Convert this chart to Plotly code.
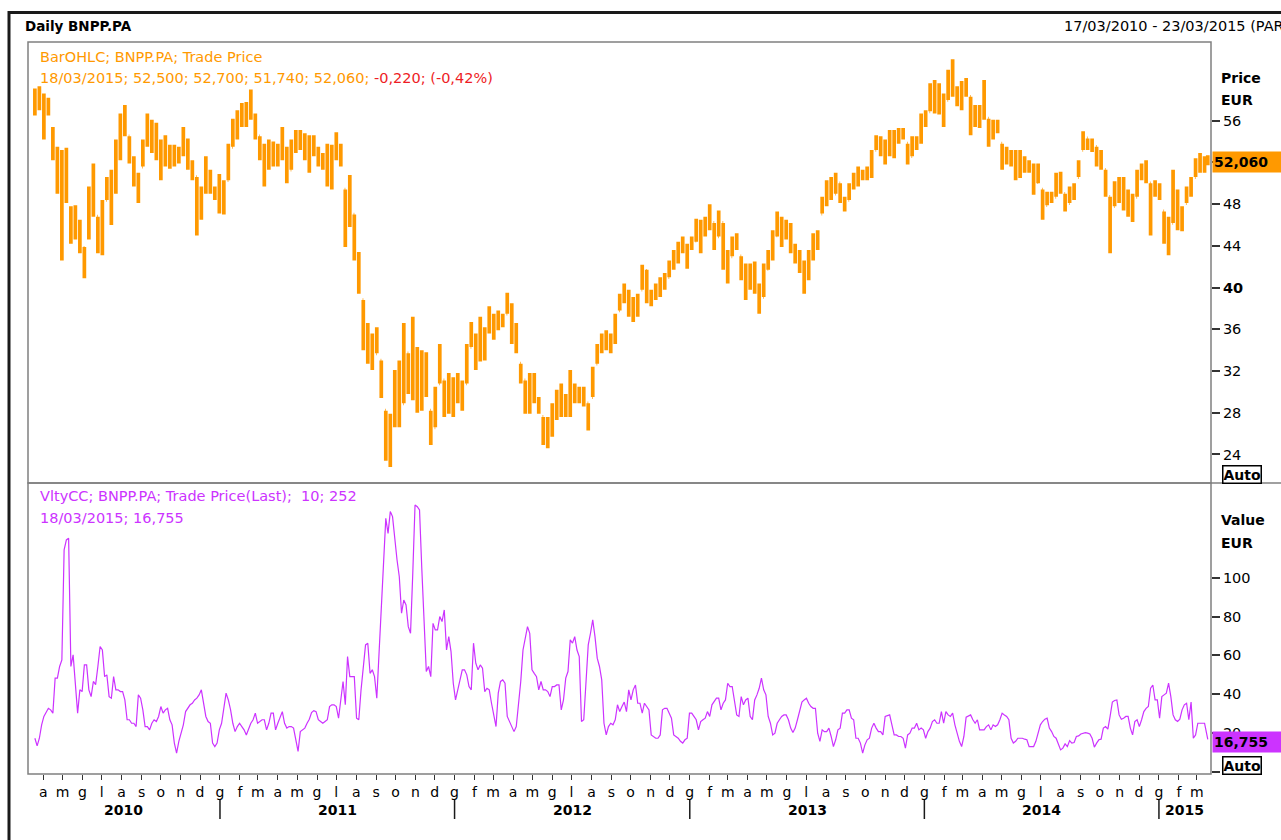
import pandas as pd
import plotly.graph_objects as go

# ---------------- data ----------------
# weekly OHLC bars of BNPP.PA, EUR (first bar 19/03/2010, last bar 18/03/2015)
price_open = [
    57.5, 58.6, 57.4, 56.8, 55.2, 52.6, 50.1, 50.8, 47.6, 45.9,
    45.2, 43.8, 44.8, 49.1, 46.8, 44.6, 48.4, 49.5, 50.8, 53.6,
    55.9, 54.5, 52.4, 50.3, 51.6, 53.9, 55.6, 54.2, 52.8, 53.1,
    52.4, 52.9, 52.2, 53.2, 53.6, 51.8, 50.6, 47.2, 49.2, 50.4,
    49.4, 48.8, 48.5, 50.3, 53.5, 55.6, 56.4, 56.1, 57.3, 56.5,
    54.5, 52.7, 52.9, 52.1, 53.4, 52.8, 53.0, 51.3, 53.9, 54.2,
    53.8, 52.6, 53.7, 52.9, 52.2, 51.9, 50.8, 53.1, 53.4, 49.4,
    46.0, 47.0, 43.2, 38.8, 35.1, 34.8, 33.7, 33.0, 28.2, 24.6,
    26.8, 30.5, 28.9, 33.7, 31.0, 32.6, 30.2, 31.4, 28.2, 26.6,
    30.8, 31.1, 28.9, 30.6, 29.4, 30.2, 30.8, 34.3, 35.2, 34.6,
    35.4, 35.9, 37.0, 36.8, 37.1, 37.5, 38.1, 35.6, 32.7, 31.1,
    29.6, 30.4, 29.3, 27.6, 25.9, 26.8, 27.9, 29.4, 28.5, 29.1,
    30.0, 29.9, 29.4, 28.9, 29.5, 32.7, 34.1, 34.6, 35.0, 34.8,
    37.8, 38.9, 39.6, 38.0, 38.3, 39.8, 41.6, 39.2, 39.5, 39.8,
    40.6, 41.0, 42.2, 43.1, 44.0, 43.6, 43.9, 44.5, 46.0, 45.1,
    46.4, 46.2, 44.9, 46.2, 43.1, 43.0, 44.3, 43.0, 41.2, 40.1,
    41.5, 40.0, 39.1, 41.8, 43.0, 45.0, 45.8, 45.3, 44.9, 43.8,
    42.9, 41.9, 41.8, 43.2, 44.6, 47.1, 48.2, 49.6, 49.0, 50.0,
    48.5, 48.4, 49.6, 50.5, 50.9, 50.8, 51.2, 53.2, 54.1, 53.2,
    53.6, 54.4, 54.6, 54.9, 53.8, 52.6, 53.9, 54.1, 56.2, 56.9,
    58.7, 57.8, 58.1, 58.0, 59.6, 59.1, 58.2, 59.2, 58.3, 55.9,
    56.7, 56.3, 56.2, 54.8, 55.7, 53.8, 52.4, 52.8, 52.0, 52.6,
    51.4, 51.9, 51.3, 50.1, 49.4, 47.9, 48.6, 48.7, 50.3, 49.0,
    48.1, 49.2, 50.6, 53.2, 54.3, 53.6, 53.5, 52.1, 51.3, 48.7,
    47.8, 48.9, 49.6, 48.2, 47.6, 48.7, 50.8, 51.2, 50.0, 49.0,
    49.4, 47.3, 45.1, 46.2, 48.3, 46.2, 48.1, 49.3, 50.6, 52.0,
    51.6, 52.5,
]
price_high = [
    59.1, 59.3, 58.6, 58.2, 55.4, 53.5, 53.2, 53.4, 47.8, 47.9,
    46.5, 43.9, 49.7, 51.9, 46.8, 48.4, 50.6, 51.3, 54.2, 56.7,
    57.5, 54.5, 52.6, 51.0, 54.2, 56.7, 56.1, 55.8, 54.2, 54.6,
    53.7, 53.7, 53.5, 55.4, 54.3, 52.2, 50.6, 49.7, 52.6, 51.3,
    49.7, 50.9, 50.3, 53.8, 56.2, 57.0, 57.7, 57.8, 59.0, 56.7,
    54.5, 53.8, 54.2, 54.0, 53.8, 55.4, 53.5, 54.2, 55.1, 55.1,
    54.8, 54.6, 54.6, 53.5, 52.9, 53.8, 53.7, 54.9, 53.8, 49.4,
    50.8, 47.0, 43.4, 38.8, 36.6, 35.6, 36.2, 33.0, 28.2, 27.9,
    32.1, 33.0, 36.6, 33.7, 37.2, 34.3, 34.0, 33.8, 28.2, 30.5,
    34.6, 31.1, 31.8, 31.4, 31.8, 31.1, 34.6, 36.7, 35.6, 37.2,
    36.2, 38.2, 37.5, 37.8, 37.5, 39.5, 38.5, 36.6, 32.7, 31.1,
    31.8, 31.8, 29.5, 27.6, 27.6, 28.9, 30.2, 30.8, 29.8, 32.1,
    30.8, 30.5, 30.5, 28.9, 32.4, 34.6, 35.6, 35.9, 35.6, 37.5,
    39.4, 40.4, 39.8, 39.1, 39.4, 42.2, 41.7, 39.8, 40.4, 41.0,
    41.4, 42.6, 43.6, 44.4, 44.9, 44.2, 44.9, 46.6, 46.5, 46.8,
    48.0, 46.2, 47.4, 46.2, 43.6, 44.9, 45.2, 43.0, 42.3, 42.3,
    42.5, 40.4, 42.3, 43.6, 45.5, 47.3, 46.8, 46.5, 46.2, 44.2,
    43.6, 42.6, 43.6, 45.2, 45.5, 48.7, 50.3, 50.6, 51.0, 50.0,
    48.7, 50.0, 51.0, 51.6, 51.3, 51.6, 53.2, 54.6, 54.5, 54.2,
    55.1, 55.1, 55.3, 55.3, 53.8, 54.5, 54.5, 56.7, 57.0, 59.6,
    59.9, 59.6, 58.6, 60.9, 61.9, 59.3, 59.8, 60.1, 58.3, 57.5,
    57.5, 59.9, 56.2, 56.1, 56.1, 53.8, 53.5, 53.2, 53.2, 53.2,
    52.6, 52.2, 51.9, 51.9, 49.4, 49.2, 49.2, 51.0, 51.1, 49.0,
    49.7, 50.0, 52.2, 55.0, 54.3, 54.3, 53.5, 53.2, 51.3, 48.7,
    50.2, 50.6, 50.6, 49.4, 49.0, 51.3, 51.9, 52.2, 50.0, 50.3,
    50.0, 47.3, 46.8, 51.3, 49.4, 47.8, 49.7, 50.6, 52.4, 52.9,
    52.6, 52.7,
]
price_low = [
    56.5, 57.0, 54.2, 56.5, 52.2, 49.0, 42.6, 48.1, 44.2, 44.6,
    43.3, 40.9, 44.6, 46.8, 43.3, 43.1, 48.4, 46.0, 49.0, 52.2,
    54.5, 51.9, 49.7, 48.1, 51.6, 53.5, 52.9, 52.2, 50.3, 51.6,
    51.4, 51.6, 51.9, 52.6, 51.3, 50.3, 45.0, 46.5, 49.0, 49.0,
    48.4, 47.1, 47.0, 50.3, 53.5, 54.2, 55.4, 55.4, 56.1, 54.2,
    52.2, 49.7, 51.3, 51.6, 51.6, 52.2, 50.0, 51.3, 52.9, 53.2,
    52.2, 51.0, 52.6, 51.6, 51.3, 49.7, 49.4, 52.2, 51.6, 43.9,
    45.8, 42.6, 39.4, 34.0, 32.7, 32.1, 33.7, 29.4, 23.4, 22.8,
    26.6, 26.6, 28.9, 29.8, 29.2, 28.0, 28.2, 29.5, 24.9, 26.6,
    30.8, 27.6, 27.9, 27.6, 28.9, 28.2, 30.8, 34.3, 32.1, 32.9,
    33.0, 35.6, 35.0, 35.9, 36.2, 37.5, 34.6, 33.7, 30.8, 27.9,
    27.9, 28.9, 27.9, 24.9, 24.6, 25.7, 27.3, 27.6, 27.6, 27.6,
    28.9, 28.9, 28.6, 26.3, 29.5, 32.7, 33.7, 34.0, 33.7, 34.6,
    37.8, 38.5, 37.2, 36.7, 37.2, 39.8, 38.5, 38.2, 38.8, 39.1,
    39.8, 41.0, 41.7, 42.3, 43.3, 41.8, 43.6, 44.4, 43.3, 44.9,
    45.5, 43.6, 44.9, 41.7, 40.4, 43.0, 43.6, 40.7, 38.8, 39.8,
    39.4, 37.5, 39.1, 41.7, 42.6, 44.9, 43.9, 44.6, 43.3, 42.3,
    41.4, 39.4, 40.7, 42.6, 43.6, 47.1, 47.8, 48.4, 49.0, 48.1,
    47.3, 48.4, 49.4, 49.7, 50.3, 50.3, 50.5, 53.2, 52.6, 51.8,
    52.6, 52.4, 53.8, 54.2, 51.8, 52.6, 53.2, 53.8, 55.4, 56.9,
    56.7, 56.6, 55.4, 58.0, 58.3, 57.4, 57.0, 58.3, 54.6, 55.4,
    55.3, 56.1, 53.5, 54.2, 54.8, 51.3, 51.8, 51.6, 50.3, 50.5,
    51.0, 51.0, 48.9, 50.0, 46.5, 47.9, 48.1, 48.7, 49.0, 47.3,
    48.1, 48.4, 50.6, 53.2, 53.2, 53.0, 51.6, 51.3, 48.7, 43.3,
    47.8, 48.1, 47.4, 46.8, 46.3, 48.7, 50.3, 50.0, 45.0, 48.7,
    48.4, 44.2, 43.1, 46.2, 45.5, 45.4, 48.1, 48.7, 50.6, 51.0,
    51.0, 51.74,
]
price_close = [
    58.6, 57.4, 56.8, 56.9, 52.6, 50.1, 50.8, 48.3, 45.9, 45.2,
    43.8, 43.5, 49.1, 47.2, 44.6, 48.0, 49.5, 50.8, 53.6, 55.9,
    55.0, 52.4, 50.3, 50.7, 53.9, 55.6, 54.2, 52.8, 53.1, 52.4,
    52.9, 52.2, 53.2, 53.6, 51.8, 50.6, 47.2, 49.2, 50.4, 49.4,
    48.8, 48.5, 50.1, 53.4, 55.6, 56.4, 56.1, 57.3, 56.5, 54.6,
    52.7, 52.9, 52.1, 53.4, 52.8, 53.0, 51.2, 53.9, 54.2, 53.8,
    52.6, 53.7, 52.9, 52.2, 51.9, 50.8, 53.1, 53.4, 51.9, 46.0,
    47.5, 43.2, 39.9, 35.1, 34.8, 33.2, 34.5, 29.9, 24.6, 26.8,
    30.5, 28.1, 33.8, 31.0, 32.6, 30.2, 31.4, 29.9, 26.1, 29.8,
    31.5, 28.9, 30.6, 29.4, 30.2, 30.8, 34.0, 35.2, 34.6, 35.4,
    35.9, 37.0, 36.8, 37.1, 37.2, 38.1, 35.6, 33.9, 31.3, 29.6,
    30.4, 29.3, 28.1, 25.9, 26.8, 27.9, 29.4, 28.5, 29.1, 30.0,
    29.9, 29.4, 28.9, 26.8, 32.0, 34.1, 34.6, 35.0, 34.8, 37.1,
    38.9, 39.6, 38.0, 38.3, 39.0, 41.6, 39.2, 39.5, 39.8, 40.6,
    41.0, 42.2, 43.1, 44.0, 43.6, 43.9, 44.5, 46.0, 45.1, 46.4,
    46.9, 44.8, 46.6, 43.1, 42.6, 44.3, 43.8, 41.2, 40.1, 41.5,
    40.0, 38.6, 41.8, 43.0, 45.0, 45.8, 45.3, 44.9, 43.8, 42.9,
    41.9, 41.8, 43.2, 44.6, 45.2, 48.2, 49.6, 49.0, 50.2, 48.5,
    48.2, 49.6, 50.5, 50.9, 50.8, 51.2, 52.9, 54.1, 53.2, 53.6,
    54.4, 54.6, 54.9, 54.5, 52.3, 53.9, 54.1, 56.2, 56.8, 58.7,
    57.8, 58.1, 57.9, 59.6, 59.1, 58.2, 59.2, 58.6, 55.9, 56.7,
    56.3, 57.5, 54.8, 55.7, 55.1, 52.4, 52.8, 52.0, 52.6, 51.4,
    51.9, 51.3, 50.1, 50.4, 47.6, 48.6, 48.4, 50.3, 49.4, 48.0,
    49.2, 49.8, 51.9, 54.4, 53.6, 53.8, 52.1, 51.8, 49.4, 47.8,
    48.9, 49.6, 48.2, 47.6, 48.5, 50.8, 51.2, 50.9, 49.0, 49.4,
    48.6, 45.1, 45.9, 48.3, 46.2, 47.4, 49.3, 50.4, 52.0, 51.6,
    52.4, 52.06,
]

# VltyCC(10; 252) of the trade price, sampled twice a week, last value 18/03/2015
vol_values = [
    17.4, 13.5, 17.4, 24.3, 28.6, 31.1, 32.8, 32.0, 30.3, 48.3,
    48.3, 54.3, 57.7, 114.3, 119.4, 120.3, 54.3, 60.3, 47.4, 30.3,
    42.3, 41.4, 55.1, 55.1, 42.3, 38.8, 46.6, 45.0, 54.3, 64.6,
    62.8, 49.1, 50.0, 38.8, 38.0, 49.1, 42.3, 42.3, 41.4, 41.4,
    37.1, 26.9, 26.9, 25.1, 25.1, 23.4, 39.7, 38.0, 32.0, 23.4,
    23.4, 21.7, 25.1, 26.9, 26.0, 28.6, 33.7, 30.3, 32.0, 32.8,
    26.9, 24.3, 14.9, 9.7, 15.8, 20.0, 24.3, 31.1, 32.8, 34.6,
    35.4, 37.1, 38.0, 39.7, 42.3, 35.4, 28.6, 26.0, 25.1, 14.9,
    13.1, 14.9, 21.7, 25.1, 33.7, 40.6, 37.1, 32.0, 25.1, 20.8,
    23.4, 25.1, 23.4, 21.7, 19.1, 22.6, 25.1, 26.9, 30.3, 25.1,
    26.0, 26.9, 26.9, 21.7, 25.1, 30.3, 30.3, 21.7, 25.1, 28.6,
    31.1, 25.1, 22.6, 23.4, 23.4, 22.6, 16.6, 10.6, 20.8, 21.7,
    22.6, 25.1, 27.2, 30.6, 31.6, 31.1, 26.9, 26.0, 25.1, 26.0,
    26.9, 33.7, 34.6, 34.6, 33.7, 27.7, 38.8, 46.6, 34.6, 59.4,
    49.1, 49.1, 49.1, 27.7, 26.9, 42.3, 56.0, 65.4, 66.3, 50.8,
    52.6, 49.1, 38.0, 62.8, 80.0, 104.8, 130.5, 122.8, 134.0, 131.4,
    119.4, 109.1, 100.5, 81.7, 88.5, 86.0, 74.8, 71.4, 102.3, 137.4,
    136.5, 134.8, 104.8, 76.5, 51.7, 54.3, 49.1, 76.5, 73.1, 73.1,
    80.0, 77.4, 83.4, 62.8, 69.7, 62.0, 45.7, 37.1, 42.3, 49.1,
    52.6, 52.6, 50.0, 44.0, 42.3, 66.3, 56.0, 52.6, 55.1, 53.4,
    41.4, 43.1, 42.3, 35.4, 28.6, 23.4, 40.6, 46.6, 47.4, 45.7,
    28.6, 26.0, 22.6, 20.8, 23.4, 33.7, 46.6, 62.8, 68.0, 74.8,
    71.4, 52.6, 50.8, 49.1, 42.3, 46.6, 42.3, 42.3, 41.4, 38.8,
    44.0, 44.0, 44.8, 44.8, 32.0, 37.1, 48.3, 51.7, 68.0, 66.3,
    69.7, 62.8, 59.4, 26.0, 26.9, 44.0, 65.4, 71.4, 78.3, 69.7,
    58.6, 54.3, 47.4, 25.1, 19.1, 23.4, 25.1, 24.3, 26.9, 34.6,
    31.1, 33.7, 36.0, 31.1, 42.3, 37.1, 42.3, 44.8, 35.4, 35.4,
    30.3, 35.4, 33.7, 32.0, 19.1, 18.3, 17.4, 17.4, 19.1, 32.0,
    32.8, 32.8, 30.3, 27.7, 19.1, 18.3, 17.4, 15.8, 14.9, 16.6,
    17.4, 30.3, 30.3, 28.6, 26.9, 21.7, 26.0, 26.9, 27.7, 31.1,
    28.6, 34.6, 36.0, 38.0, 38.0, 32.0, 35.4, 37.1, 45.7, 44.0,
    44.0, 37.1, 29.4, 28.6, 38.8, 34.6, 37.1, 38.0, 28.6, 26.9,
    37.1, 39.7, 43.1, 48.3, 42.3, 39.7, 28.6, 25.1, 19.1, 20.0,
    25.1, 26.9, 28.6, 29.4, 29.4, 26.9, 22.6, 20.3, 22.6, 26.9,
    32.0, 36.0, 37.1, 38.0, 35.4, 33.7, 32.8, 32.8, 20.0, 15.8,
    21.7, 20.8, 20.8, 22.6, 18.3, 13.1, 16.6, 21.7, 22.6, 30.3,
    30.3, 32.0, 32.0, 27.7, 26.9, 17.4, 17.4, 14.9, 9.7, 14.0,
    16.6, 17.4, 22.6, 25.1, 22.6, 20.8, 20.8, 19.1, 28.6, 28.9,
    29.4, 24.3, 19.1, 19.1, 18.3, 18.3, 17.4, 12.3, 19.1, 20.0,
    22.6, 22.6, 25.1, 21.7, 22.6, 21.7, 17.4, 20.8, 22.6, 26.0,
    26.9, 25.1, 25.1, 31.1, 25.1, 31.1, 29.4, 28.6, 30.3, 24.3,
    20.0, 15.8, 13.1, 18.3, 28.2, 28.9, 29.4, 26.9, 25.1, 26.9,
    21.7, 21.7, 21.7, 23.4, 24.3, 21.7, 24.3, 23.4, 24.3, 26.9,
    30.3, 29.4, 28.6, 26.9, 17.4, 14.9, 15.8, 17.4, 17.4, 17.4,
    16.9, 16.6, 13.1, 13.1, 13.1, 15.8, 20.8, 24.3, 26.0, 27.2,
    27.7, 22.6, 20.8, 18.3, 17.4, 14.0, 11.4, 12.3, 14.5, 13.1,
    16.2, 14.9, 15.2, 18.3, 18.6, 19.6, 20.0, 20.3, 20.0, 19.6,
    17.4, 12.8, 14.9, 16.6, 16.9, 22.6, 23.4, 22.1, 28.6, 36.0,
    36.8, 37.1, 29.4, 27.2, 27.7, 28.6, 28.6, 22.6, 19.1, 26.0,
    26.9, 23.4, 26.9, 31.1, 32.8, 33.7, 43.1, 44.8, 37.1, 37.1,
    27.7, 38.8, 39.7, 40.6, 45.7, 38.8, 29.4, 26.9, 26.0, 27.2,
    32.0, 34.6, 35.4, 26.9, 36.0, 17.4, 19.1, 25.1, 25.1, 25.1,
    25.1, 16.755,
]

last_date = pd.Timestamp("2015-03-18")
price_dates = list(pd.date_range("2010-03-19", periods=len(price_close) - 1, freq="7D")) + [last_date]
vol_dates = list(pd.date_range("2010-03-19", periods=len(vol_values) - 1, freq="84h")) + [last_date]

month_letters = ["g", "f", "m", "a", "m", "g", "l", "a", "s", "o", "n", "d"]
month_ticks = list(pd.date_range("2010-04-01", "2015-03-01", freq="MS"))
month_text = [month_letters[d.month - 1] for d in month_ticks]
year_labels = [2010, 2011, 2012, 2013, 2014, 2015]

price_ticks = [24, 28, 32, 36, 40, 44, 48, 52, 56]
price_tick_text = ["24", "28", "32", "36", "<b>40</b>", "44", "48", "", "56"]
vol_ticks = [0, 20, 40, 60, 80, 100]
vol_tick_text = ["", "20", "40", "60", "80", "100"]

header_left = "Daily BNPP.PA"
header_right = "17/03/2010 - 23/03/2015 (PAR)"
price_legend_1 = "BarOHLC; BNPP.PA; Trade Price"
price_legend_2 = "18/03/2015; 52,500; 52,700; 51,740; 52,060; "
price_legend_change = "-0,220; (-0,42%)"
vol_legend_1 = "VltyCC; BNPP.PA; Trade Price(Last);  10; 252"
vol_legend_2 = "18/03/2015; 16,755"
last_price_text = "52,060"
last_vol_text = "16,755"

# ---------------- layout geometry ----------------
W, H = 1281, 840
ML, MR, MT, MB = 28, 70, 42, 66
PW, PH = W - ML - MR, H - MT - MB


def px_x(px):
    return (px - ML) / PW


def px_y(py):
    return (H - MB - py) / PH


SPLIT = px_y(483)
X0 = pd.Timestamp("2010-03-08 07:00")
X1 = pd.Timestamp("2015-03-23 00:00")

ORANGE = "#ff9900"
PURPLE = "#cc33ff"
RED = "#ee1c25"
GRAY = "#808080"
DARK = "#1a1a1a"
FONT = "DejaVu Sans"
LEG = 14.5

fig = go.Figure()
fig.add_trace(go.Ohlc(
    x=price_dates, open=price_open, high=price_high, low=price_low, close=price_close,
    xaxis="x", yaxis="y",
    increasing=dict(line=dict(color=ORANGE, width=3.7)),
    decreasing=dict(line=dict(color=ORANGE, width=3.7)),
    tickwidth=0.2, showlegend=False, hoverinfo="skip",
))
fig.add_trace(go.Scatter(
    x=vol_dates, y=vol_values, mode="lines", xaxis="x", yaxis="y2",
    line=dict(color=PURPLE, width=1.2), showlegend=False, hoverinfo="skip",
))

shapes = [
    dict(type="rect", xref="paper", yref="paper", x0=0, x1=1, y0=SPLIT, y1=1,
         line=dict(color=GRAY, width=1.5)),
    dict(type="rect", xref="paper", yref="paper", x0=0, x1=1, y0=0, y1=SPLIT,
         line=dict(color=GRAY, width=1.5)),
    dict(type="line", xref="paper", yref="paper", x0=1, x1=px_x(W + 2), y0=SPLIT, y1=SPLIT,
         line=dict(color=GRAY, width=1.5)),
    dict(type="line", xref="paper", yref="paper", x0=px_x(8), x1=px_x(W + 2),
         y0=px_y(12.5), y1=px_y(12.5), line=dict(color=DARK, width=3)),
    dict(type="line", xref="paper", yref="paper", x0=px_x(9), x1=px_x(9),
         y0=px_y(11), y1=px_y(H + 2), line=dict(color=DARK, width=3)),
]
for yr in year_labels[1:]:
    shapes.append(dict(type="line", xref="x", yref="paper",
                       x0=pd.Timestamp(f"{yr}-01-01"), x1=pd.Timestamp(f"{yr}-01-01"),
                       y0=px_y(800), y1=px_y(819), line=dict(color=DARK, width=1.5)))

annotations = [
    dict(text=f"<b>{header_left}</b>", xref="paper", yref="paper", x=px_x(23), y=px_y(26),
         xanchor="left", yanchor="middle", showarrow=False, font=dict(size=13.5, color="black")),
    dict(text=header_right, xref="paper", yref="paper", x=px_x(1062), y=px_y(26),
         xanchor="left", yanchor="middle", showarrow=False, font=dict(size=14.5, color="black")),
    dict(text=price_legend_1, xref="paper", yref="paper", x=px_x(38), y=px_y(57),
         xanchor="left", yanchor="middle", showarrow=False, font=dict(size=LEG, color=ORANGE)),
    dict(text=price_legend_2 + f"<span style='color:{RED}'>{price_legend_change}</span>",
         xref="paper", yref="paper", x=px_x(38), y=px_y(78),
         xanchor="left", yanchor="middle", showarrow=False, font=dict(size=LEG, color=ORANGE)),
    dict(text=vol_legend_1, xref="paper", yref="paper", x=px_x(38), y=px_y(496),
         xanchor="left", yanchor="middle", showarrow=False, font=dict(size=LEG, color=PURPLE)),
    dict(text=vol_legend_2, xref="paper", yref="paper", x=px_x(38), y=px_y(518),
         xanchor="left", yanchor="middle", showarrow=False, font=dict(size=LEG, color=PURPLE)),
    dict(text="<b>Price</b>", xref="paper", yref="paper", x=px_x(1219), y=px_y(78),
         xanchor="left", yanchor="middle", showarrow=False, font=dict(size=14, color="black")),
    dict(text="<b>EUR</b>", xref="paper", yref="paper", x=px_x(1219), y=px_y(100),
         xanchor="left", yanchor="middle", showarrow=False, font=dict(size=14, color="black")),
    dict(text="<b>Value</b>", xref="paper", yref="paper", x=px_x(1219), y=px_y(520),
         xanchor="left", yanchor="middle", showarrow=False, font=dict(size=14, color="black")),
    dict(text="<b>EUR</b>", xref="paper", yref="paper", x=px_x(1219), y=px_y(543),
         xanchor="left", yanchor="middle", showarrow=False, font=dict(size=14, color="black")),
    dict(text=f"<b>{last_price_text}</b>", xref="paper", yref="y", x=px_x(1212), y=price_close[-1],
         xanchor="left", yanchor="middle", showarrow=False, bgcolor=ORANGE, width=66, height=18,
         align="left", borderpad=1, font=dict(size=14, color="black")),
    dict(text=f"<b>{last_vol_text}</b>", xref="paper", yref="y2", x=px_x(1212), y=vol_values[-1] - 1.5,
         xanchor="left", yanchor="middle", showarrow=False, bgcolor=PURPLE, width=66, height=18,
         align="left", borderpad=1, font=dict(size=14, color="black")),
    dict(text="<b>Auto</b>", xref="paper", yref="paper", x=px_x(1222), y=px_y(474),
         xanchor="left", yanchor="middle", showarrow=False, bgcolor="white",
         bordercolor="black", borderwidth=1.5, borderpad=0, font=dict(size=14, color="black")),
    dict(text="<b>Auto</b>", xref="paper", yref="paper", x=px_x(1222), y=px_y(765),
         xanchor="left", yanchor="middle", showarrow=False, bgcolor="white",
         bordercolor="black", borderwidth=1.5, borderpad=0, font=dict(size=14, color="black")),
]
for yr in year_labels:
    start = max(pd.Timestamp(f"{yr}-01-01"), X0)
    end = min(pd.Timestamp(f"{yr + 1}-01-01"), X1)
    mid = start + (end - start) / 2
    annotations.append(dict(text=f"<b>{yr}</b>", xref="x", yref="paper", x=mid, y=px_y(810),
                            xanchor="center", yanchor="middle", showarrow=False,
                            font=dict(size=14, color="black")))

fig.update_layout(
    width=W, height=H,
    margin=dict(l=ML, r=MR, t=MT, b=MB, pad=0),
    paper_bgcolor="white", plot_bgcolor="white",
    font=dict(family=FONT, size=14, color="black"),
    showlegend=False,
    hovermode=False,
    xaxis=dict(
        type="date", range=[X0, X1], domain=[0, 1], anchor="y2",
        tickmode="array", tickvals=month_ticks, ticktext=month_text,
        ticks="outside", ticklen=5, tickcolor="#333333", tickwidth=1,
        tickfont=dict(size=14, color="black"),
        showgrid=False, zeroline=False, showline=False,
        rangeslider=dict(visible=False), fixedrange=True,
    ),
    yaxis=dict(
        domain=[SPLIT, 1], range=[21.26, 63.55], anchor="x", side="right",
        tickmode="array", tickvals=price_ticks, ticktext=price_tick_text,
        ticks="outside", ticklen=8, tickcolor="#333333", tickwidth=1.5,
        tickfont=dict(size=14.5, color="black"),
        showgrid=False, zeroline=False, showline=False, fixedrange=True,
    ),
    yaxis2=dict(
        domain=[0, SPLIT], range=[-1.0, 148.7], anchor="x", side="right",
        tickmode="array", tickvals=vol_ticks, ticktext=vol_tick_text,
        ticks="outside", ticklen=8, tickcolor="#333333", tickwidth=1.5,
        tickfont=dict(size=14.5, color="black"),
        showgrid=False, zeroline=False, showline=False, fixedrange=True,
    ),
    shapes=shapes,
    annotations=annotations,
)

fig.write_html("out.html", config={"displayModeBar": False},
               post_script="document.body.style.margin='0';document.body.style.overflow='hidden';")
